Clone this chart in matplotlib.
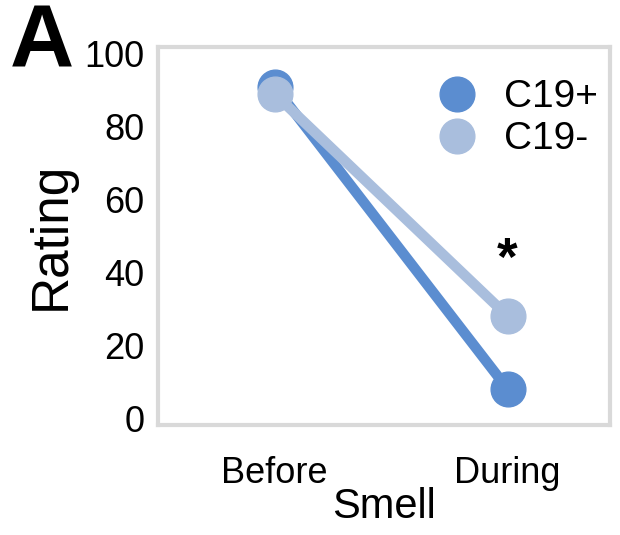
import matplotlib
matplotlib.use("Agg")
import matplotlib.pyplot as plt
from matplotlib.lines import Line2D

plt.rcParams["font.family"] = ["Liberation Sans", "DejaVu Sans"]

# data
conditions = ["Before", "During"]
groups = ["C19+", "C19-"]
rating_pos = [91, 8]
rating_neg = [89, 28]
colors = ["#5b8dd0", "#a9bedd"]
yticks = [0, 20, 40, 60, 80, 100]

fig = plt.figure(figsize=(6.2, 5.35), dpi=100)
ax = fig.add_axes([0.255, 0.205, 0.729, 0.708])

x = list(range(len(conditions)))
for vals, col in zip([rating_pos, rating_neg], colors):
    ax.plot(x, vals, color=col, lw=7.5, marker="o", markersize=25,
            solid_capstyle="round")

# significance marker
ax.text(1, 43, "*", ha="center", va="center", fontsize=38, fontweight="bold")

ax.set_xlim(-0.5, 1.44)
ax.set_ylim(-2, 102)
ax.set_xticks(x)
ax.set_xticklabels(conditions)
ax.set_yticks(yticks)
ax.tick_params(axis="y", length=0, labelsize=26, pad=10)
ax.tick_params(axis="x", length=0, labelsize=26, pad=22)
ax.set_xlabel("Smell", fontsize=30, labelpad=-3)
ax.set_ylabel("Rating", fontsize=37, labelpad=6)

for sp in ax.spines.values():
    sp.set_color("#d9d9d9")
    sp.set_linewidth(3)

handles = [Line2D([], [], ls="none", marker="o", markersize=25, color=c)
           for c in colors]
ax.legend(handles, groups, loc="upper left", bbox_to_anchor=(0.515, 0.985),
          frameon=False, fontsize=28, handletextpad=0.2, labelspacing=0.15,
          borderpad=0.2)

fig.text(0.015, 0.995, "A", fontsize=64, fontweight="bold", va="top")

fig.savefig("out.png", dpi=100)
